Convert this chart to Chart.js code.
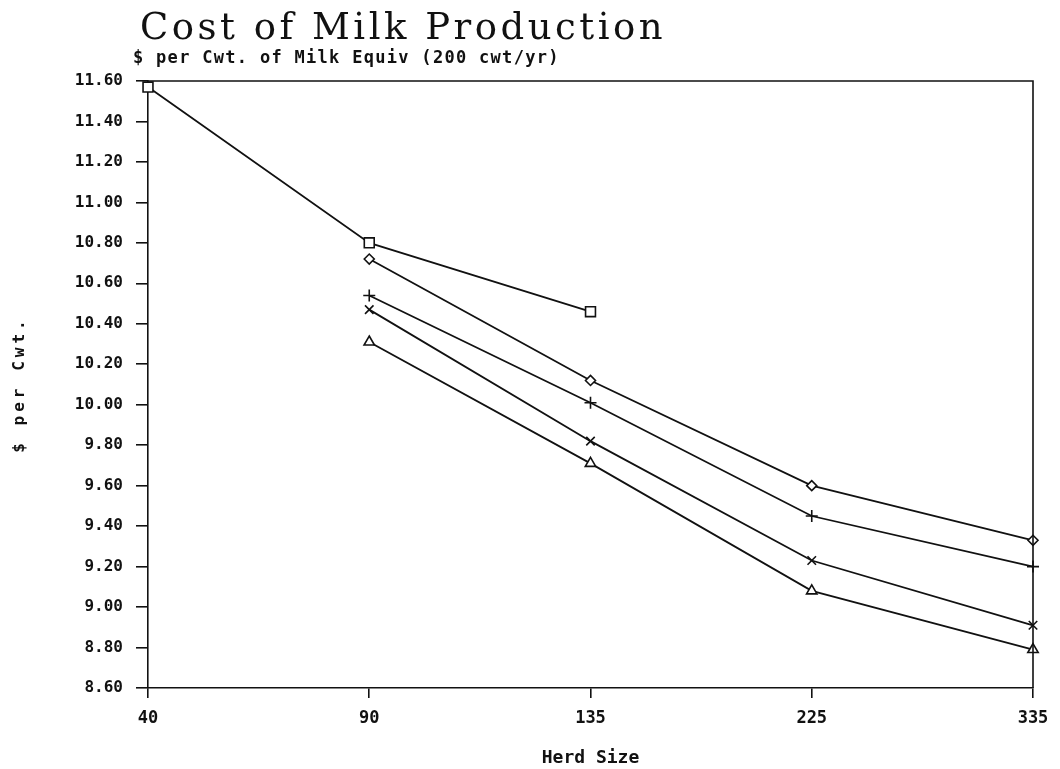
<!DOCTYPE html>
<html>
<head>
<meta charset="utf-8">
<script src="https://cdn.jsdelivr.net/npm/chart.js@4.4.1/dist/chart.umd.min.js"></script>
<style>
  html, body { margin: 0; padding: 0; background: #fff; }
  #wrap { width: 1060px; height: 769px; }
</style>
</head>
<body>
<div id="wrap"><canvas id="milkChart" width="1060" height="769"></canvas></div>
<script>
// herd sizes (evenly spaced categories on the original plot)
const herdSizes = ['40', '90', '135', '225', '335'];

// $ per cwt for each series
const squareCost   = [11.57, 10.80, 10.46, null, null];
const diamondCost  = [null, 10.72, 10.12, 9.60, 9.33];
const plusCost     = [null, 10.54, 10.01, 9.45, 9.20];
const crossCost    = [null, 10.47, 9.82, 9.23, 8.91];
const triangleCost = [null, 10.31, 9.71, 9.08, 8.79];

const ink = '#111';

function series(data, style, radius) {
    return {
        data: data,
        borderColor: ink,
        borderWidth: 1.8,
        pointStyle: style,
        pointRadius: radius,
        pointBorderColor: ink,
        pointBackgroundColor: '#fff',
        pointBorderWidth: 1.6,
        tension: 0,
        clip: false
    };
}

// headings + frame drawn straight onto the canvas
const headings = {
    id: 'headings',
    afterDraw(chart) {
        const ctx = chart.ctx;
        const area = chart.chartArea;
        ctx.save();
        ctx.fillStyle = ink;
        ctx.textBaseline = 'alphabetic';

        ctx.font = '37px "DejaVu Serif"';
        ctx.letterSpacing = '3.5px';
        ctx.fillText('Cost of Milk Production', area.left - 8, 39);

        ctx.font = 'bold 17px "DejaVu Sans Mono"';
        ctx.letterSpacing = '1.3px';
        ctx.fillText('$ per Cwt. of Milk Equiv (200 cwt/yr)', area.left - 15, 63);

        // rotated y title
        ctx.translate(20, (area.top + area.bottom) / 2);
        ctx.rotate(-Math.PI / 2);
        ctx.textAlign = 'center';
        ctx.textBaseline = 'middle';
        ctx.font = 'bold 16px "DejaVu Sans Mono"';
        ctx.letterSpacing = '4px';
        ctx.fillText('$ per Cwt.', 0, 0);
        ctx.restore();

        // top and right edges of the box
        ctx.save();
        ctx.strokeStyle = ink;
        ctx.lineWidth = 1.6;
        ctx.beginPath();
        ctx.moveTo(area.left, area.top);
        ctx.lineTo(area.right, area.top);
        ctx.lineTo(area.right, area.bottom);
        ctx.stroke();
        ctx.restore();
    }
};

new Chart(document.getElementById('milkChart'), {
    type: 'line',
    data: {
        labels: herdSizes,
        datasets: [
            series(squareCost, 'rect', 7),
            series(diamondCost, 'rectRot', 5),
            series(plusCost, 'cross', 6),
            series(crossCost, 'crossRot', 6),
            series(triangleCost, 'triangle', 6)
        ]
    },
    options: {
        responsive: false,
        animation: false,
        layout: { padding: { top: 81, right: 27, bottom: 0, left: 0 } },
        plugins: {
            legend: { display: false },
            tooltip: { enabled: false }
        },
        scales: {
            x: {
                type: 'category',
                offset: false,
                afterFit(scale) { scale.height = 81; },
                border: { display: true, color: ink, width: 1.6 },
                grid: { display: true, drawOnChartArea: false, drawTicks: true, tickLength: 10, color: ink, lineWidth: 1.6 },
                ticks: {
                    color: ink,
                    padding: 10,
                    maxRotation: 0,
                    font: { family: 'DejaVu Sans Mono', weight: 'bold', size: 17 }
                },
                title: {
                    display: true,
                    text: 'Herd Size',
                    color: ink,
                    padding: { top: 0, bottom: 0 },
                    font: { family: 'DejaVu Sans Mono', weight: 'bold', size: 18 }
                }
            },
            y: {
                min: 8.6,
                max: 11.6,
                afterFit(scale) { scale.width = 148; },
                border: { display: true, color: ink, width: 1.6 },
                grid: { display: true, drawOnChartArea: false, drawTicks: true, tickLength: 12, color: ink, lineWidth: 1.6 },
                ticks: {
                    stepSize: 0.2,
                    color: ink,
                    padding: 13,
                    font: { family: 'DejaVu Sans Mono', weight: 'bold', size: 16 },
                    callback: (v) => Number(v).toFixed(2)
                }
            }
        }
    },
    plugins: [headings]
});
</script>
</body>
</html>
